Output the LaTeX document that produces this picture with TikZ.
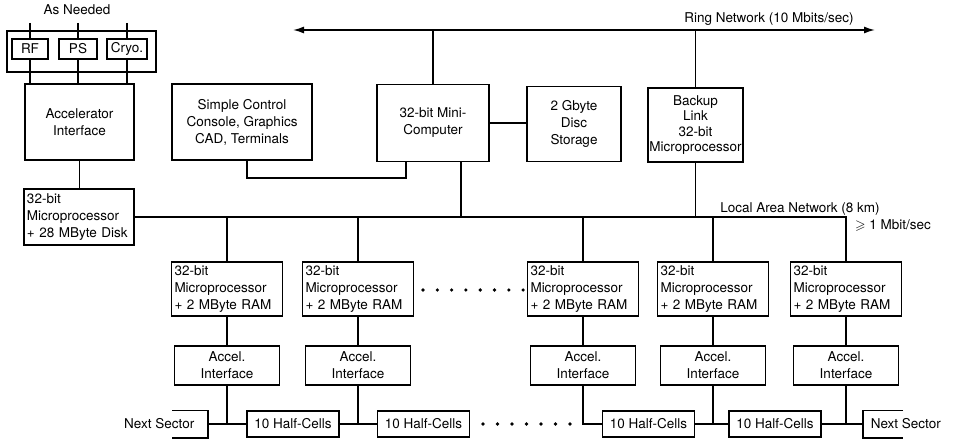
\documentclass[tikz,border=0pt]{standalone}
\usepackage{fontspec}
\setmainfont{TeX Gyre Heros}
\usepackage{amssymb}
\usetikzlibrary{arrows.meta}

\begin{document}
\begin{tikzpicture}[x=1pt,y=-1pt,line width=1.5pt,
  font=\fontsize{13.5}{17}\selectfont,
  box/.style={draw, align=center, inner sep=1pt},
  cpu/.style={draw, align=left, text width=105pt, inner sep=2pt,
    minimum width=111pt, minimum height=54pt}]

\useasboundingbox (0,0) rectangle (953,441);

% === Ring network ===
\coordinate (ringL) at (293,30);
\coordinate (ringR) at (875,30);
\draw[{Latex[length=11pt,width=7pt]}-{Latex[length=11pt,width=7pt]}] (ringL) -- (ringR);
\node (ringlbl) at (769,19) {Ring Network (10 Mbits/sec)};

% main computer, console, disc
\node[box, minimum width=140pt, minimum height=76pt] (ctrl) at (242,122) {Simple Control\\Console, Graphics\\CAD, Terminals};
\node[box, minimum width=112pt, minimum height=77pt] (mini) at (433,123) {32-bit Mini-\\Computer};
\node[box, minimum width=94pt, minimum height=75pt] (disc) at (574,124) {2 Gbyte\\Disc\\Storage};
\node[box, minimum width=95pt, minimum height=74pt, font=\fontsize{13.5}{15.5}\selectfont] (backup) at (695.5,125) {Backup\\Link\\32-bit\\Microprocessor};

\draw (mini.north |- ringL) -- (mini.north);
\draw (backup.north |- ringL) -- (backup.north);
\draw (mini.east) -- (mini.east -| disc.west);
\coordinate (ctrlbend) at (247,178);
\draw ([xshift=5pt]ctrl.south) -- (ctrlbend) -| ([xshift=-27pt]mini.south);

% === As needed ===
\node (asneeded) at (77,10) {As Needed};
\coordinate (needtop) at (0,23);
\node[draw, minimum width=149pt, minimum height=41pt] (needed) at (81.5,51.5) {};
\node[box, minimum width=36pt, minimum height=20pt] (rf) at (30,49) {RF};
\node[box, minimum width=38pt, minimum height=20pt] (ps) at (78,49) {PS};
\node[box, minimum width=40pt, minimum height=20pt] (cryo) at (127,49) {Cryo.};
\node[box, minimum width=109pt, minimum height=76pt] (acc) at (79.5,122) {Accelerator\\Interface};
\foreach \n in {rf,ps,cryo} {
  \draw (\n.north |- needtop) -- (\n.north);
  \draw (\n.south) -- (\n.south |- acc.north);
}
\node[cpu, text width=104pt, minimum width=110pt, minimum height=56pt] (disk) at (79,217) {32-bit\\Microprocessor\\+ 28 MByte Disk};
\draw (acc.south) -- (acc.south |- disk.north);

% === Sector row ===
\foreach \i/\x in {1/227, 2/358, 3/583, 4/713, 5/846} {
  \node[cpu] (m\i) at (\x,289) {32-bit\\Microprocessor\\+ 2 MByte RAM};
  \node[box, minimum width=105pt, minimum height=39pt] (a\i) at (\x,365.5) {Accel.\\Interface};
  \draw (m\i.south) -- (a\i.north);
}
\foreach \i/\x in {1/293, 2/423.5, 3/648.5, 4/775} {
  \node[box, minimum width=92pt, minimum height=26pt] (h\i) at (\x,424) {10 Half-Cells};
}

% Local area network
\draw (disk.east) -| (m5.north);
\foreach \i in {1,...,4} {
  \draw (m\i.north |- disk.east) -- (m\i.north);
}
\draw ([xshift=28pt]mini.south) |- (disk.east);
\draw (backup.south) |- (disk.east);
\node (lanlbl) at (800,209) {Local Area Network (8 km)};
\node (lanrate) at (893,226) {$\geqslant$ 1 Mbit/sec};

% next sectors
\node[anchor=east, inner xsep=13pt, minimum height=26pt] (nsL) at (208,424) {Next Sector};
\draw ([xshift=-36pt]nsL.north east) -- (nsL.north east) -- (nsL.south east) -- ([xshift=-36pt]nsL.south east);
\node[anchor=west, inner xsep=7pt, minimum height=26pt] (nsR) at (863,424) {Next Sector};
\draw ([xshift=40pt]nsR.north west) -- (nsR.north west) -- (nsR.south west) -- ([xshift=40pt]nsR.south west);

% bus
\draw (nsL.east) -- (h1.west);
\draw (h1.east) -- (h2.west);
\draw (h3.east) -- (h4.west);
\draw (h4.east) -- (nsR.west);
\foreach \i in {1,2,4,5} {
  \draw (a\i.south) -- (a\i.south |- h1.west);
}
\draw (a3.south) |- (h3.west);

% dots
\foreach \k in {0,...,7} \fill (423+\k*14.3,290) circle (1.8pt);
\foreach \k in {0,...,6} \fill (483+\k*14.5,424) circle (1.8pt);

\end{tikzpicture}
\end{document}
